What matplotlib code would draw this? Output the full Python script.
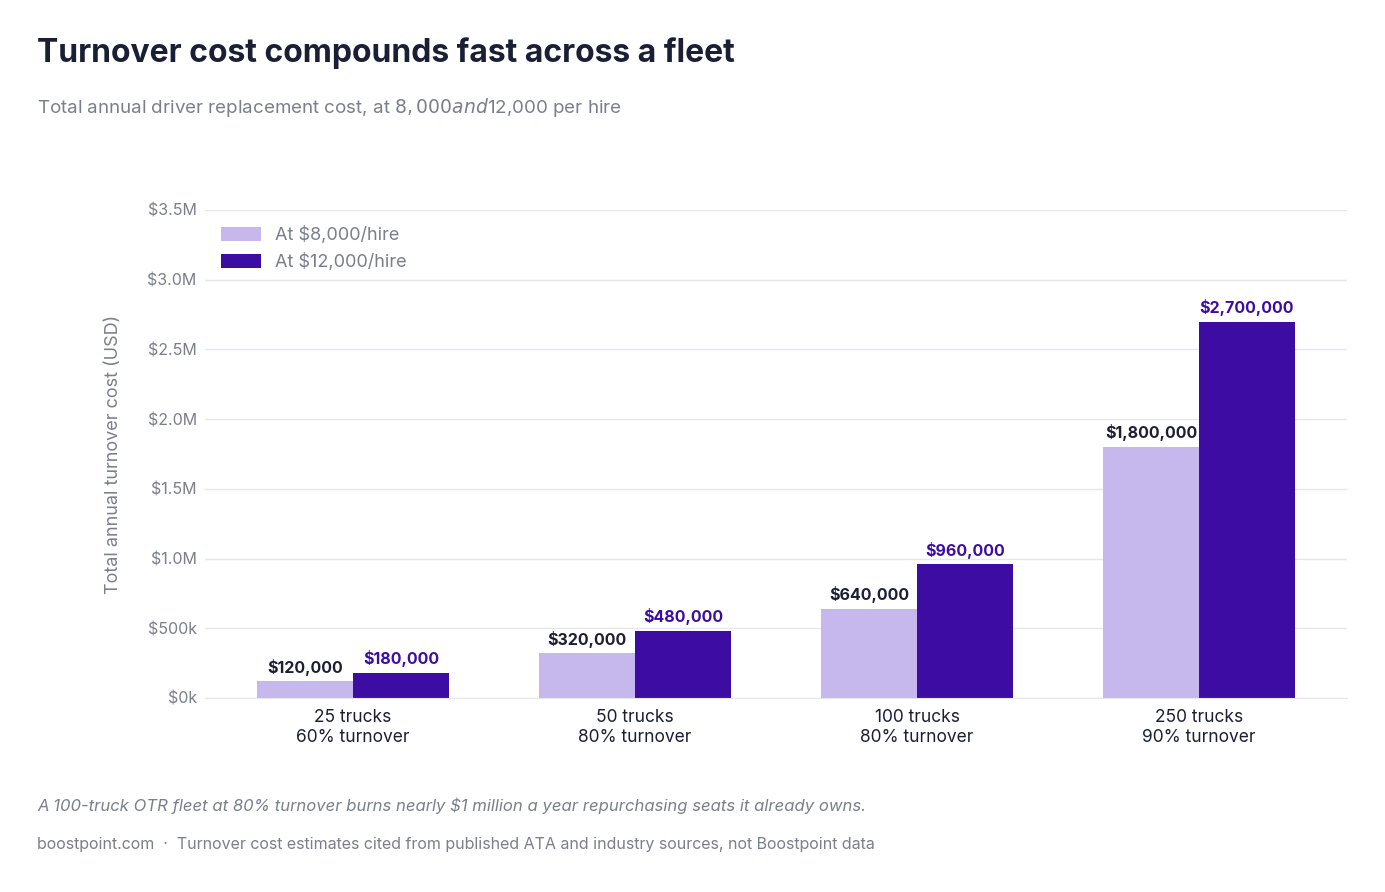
import matplotlib
matplotlib.use("Agg")
import matplotlib.pyplot as plt
import numpy as np

plt.rcParams['font.family'] = ['Inter', 'DejaVu Sans']

categories = ["25 trucks\n60% turnover", "50 trucks\n80% turnover",
              "100 trucks\n80% turnover", "250 trucks\n90% turnover"]
cost_8k = [120000, 320000, 640000, 1800000]
cost_12k = [180000, 480000, 960000, 2700000]
ytick_vals = [0, 500000, 1000000, 1500000, 2000000, 2500000, 3000000, 3500000]
ytick_labels = ["$0k", "$500k", "$1.0M", "$1.5M", "$2.0M", "$2.5M", "$3.0M", "$3.5M"]

light = "#c6b8ec"
dark = "#3c0ca3"
gray = "#7a7f8e"
ink = "#1a1f36"

fig = plt.figure(figsize=(13.85, 8.92), dpi=100)
ax = fig.add_axes([0.148, 0.2175, 0.8246, 0.5471])

x = np.arange(len(categories))
w = 0.34
ax.bar(x - w/2, cost_8k, w, color=light, label="At $8,000/hire", zorder=2)
ax.bar(x + w/2, cost_12k, w, color=dark, label="At $12,000/hire", zorder=2)

for xi, a, b in zip(x, cost_8k, cost_12k):
    ax.text(xi - w/2, a + 40000, f"${a:,.0f}", ha='center', va='bottom',
            fontsize=11.5, fontweight='bold', color=ink)
    ax.text(xi + w/2, b + 40000, f"${b:,.0f}", ha='center', va='bottom',
            fontsize=11.5, fontweight='bold', color=dark)

ax.set_xlim(-0.525, 3.525)
ax.set_ylim(0, 3500000)
ax.set_yticks(ytick_vals)
ax.set_yticklabels(ytick_labels)
ax.set_xticks(x)
ax.set_xticklabels(categories, fontsize=12.5, color=ink, linespacing=1.2)
ax.tick_params(axis='y', length=0, labelsize=11.5, labelcolor=gray, pad=6)
ax.tick_params(axis='x', length=0, pad=8)
ax.grid(axis='y', color="#e5e7eb", linewidth=1, zorder=0)
for s in ['top', 'right', 'left']:
    ax.spines[s].set_visible(False)
ax.spines['bottom'].set_color("#e5e7eb")
ax.set_ylabel("Total annual turnover cost (USD)", fontsize=13, color=gray, labelpad=18)

leg = ax.legend(loc='upper left', bbox_to_anchor=(0.0, 1.0), frameon=False,
                fontsize=13, handlelength=2.2, handleheight=0.8, labelspacing=0.5)
for t in leg.get_texts():
    t.set_color(gray)

fig.text(0.027, 0.94, "Turnover cost compounds fast across a fleet", fontsize=23,
         fontweight='bold', color=ink, va='center')
fig.text(0.027, 0.879, "Total annual driver replacement cost, at $8,000 and $12,000 per hire",
         fontsize=13.5, color=gray, va='center')
fig.text(0.027, 0.097, "A 100-truck OTR fleet at 80% turnover burns nearly $1 million a year repurchasing seats it already owns.",
         fontsize=12, color=gray, style='italic', va='center')
fig.text(0.027, 0.053, "boostpoint.com  ·  Turnover cost estimates cited from published ATA and industry sources, not Boostpoint data",
         fontsize=11.5, color=gray, va='center')

fig.savefig("out.png", dpi=100)
